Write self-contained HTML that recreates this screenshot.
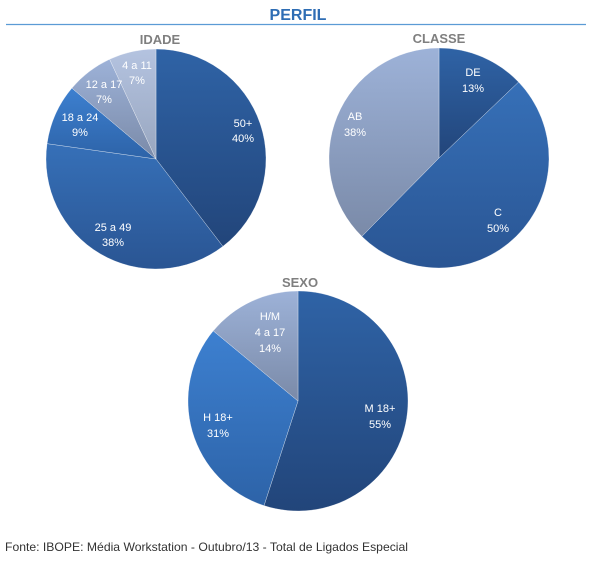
<!DOCTYPE html>
<html><head><meta charset="utf-8"><style>
body{margin:0;background:#fff;width:602px;height:583px;overflow:hidden;font-family:"Liberation Sans",sans-serif}
</style></head><body>
<svg id="s" width="602" height="583" xmlns="http://www.w3.org/2000/svg" font-family="Liberation Sans, DejaVu Sans, sans-serif">
<defs>
<linearGradient id="gDark" x1="0" y1="0" x2="0" y2="1"><stop offset="0" stop-color="#2f63a6"/><stop offset="1" stop-color="#22457a"/></linearGradient>
<linearGradient id="gMid" x1="0" y1="0" x2="0" y2="1"><stop offset="0" stop-color="#3670b8"/><stop offset="1" stop-color="#2a5593"/></linearGradient>
<linearGradient id="gBright" x1="0" y1="0" x2="0" y2="1"><stop offset="0" stop-color="#3d80d0"/><stop offset="1" stop-color="#2d63a8"/></linearGradient>
<linearGradient id="gGray" x1="0" y1="0" x2="0" y2="1"><stop offset="0" stop-color="#9db2d8"/><stop offset="1" stop-color="#7a8aa8"/></linearGradient>
<linearGradient id="gLight" x1="0" y1="0" x2="0" y2="1"><stop offset="0" stop-color="#b4c3e0"/><stop offset="1" stop-color="#98a6bf"/></linearGradient>
</defs>
<line x1="6" y1="24.5" x2="586" y2="24.5" stroke="#5b9bd5" stroke-width="1.2"/>
<text x="298" y="20" text-anchor="middle" font-size="16" font-weight="bold" fill="#2e6db4">PERFIL</text>
<text x="160" y="44" text-anchor="middle" font-size="13" font-weight="bold" fill="#7f7f7f">IDADE</text>
<text x="439" y="43" text-anchor="middle" font-size="13" font-weight="bold" fill="#7f7f7f">CLASSE</text>
<text x="300" y="287" text-anchor="middle" font-size="13" font-weight="bold" fill="#7f7f7f">SEXO</text>
<g id="pies"></g>
<g font-size="11" fill="#fff" text-anchor="middle">
<text x="243" y="127">50+</text><text x="243" y="142">40%</text>
<text x="113" y="231">25 a 49</text><text x="113" y="246">38%</text>
<text x="80" y="121">18 a 24</text><text x="80" y="136">9%</text>
<text x="104" y="88">12 a 17</text><text x="104" y="103">7%</text>
<text x="137" y="69">4 a 11</text><text x="137" y="84">7%</text>
<text x="473" y="76">DE</text><text x="473" y="92">13%</text>
<text x="498" y="216">C</text><text x="498" y="232">50%</text>
<text x="355" y="120">AB</text><text x="355" y="136">38%</text>
<text x="380" y="412">M 18+</text><text x="380" y="428">55%</text>
<text x="218" y="421">H 18+</text><text x="218" y="437">31%</text>
<text x="270" y="320">H/M</text><text x="270" y="336">4 a 17</text><text x="270" y="352">14%</text>
</g>
<text x="5" y="551" font-size="12" textLength="403" lengthAdjust="spacingAndGlyphs" fill="#333">Fonte: IBOPE: Média Workstation - Outubro/13 - Total de Ligados Especial</text>
</svg>
<script>
function pie(cx,cy,r,vals,fills){
 var tot=vals.reduce(function(a,b){return a+b},0),a=0,out="";
 vals.forEach(function(v,i){
  var a0=a,a1=a+v/tot*2*Math.PI;a=a1;
  var x0=cx+r*Math.sin(a0),y0=cy-r*Math.cos(a0),x1=cx+r*Math.sin(a1),y1=cy-r*Math.cos(a1);
  out+='<path d="M'+cx+','+cy+'L'+x0+','+y0+'A'+r+','+r+' 0 '+((a1-a0)>Math.PI?1:0)+' 1 '+x1+','+y1+'Z" fill="url(#'+fills[i]+')" stroke="#fff" stroke-width="0.3"/>';
 });
 return out;
}
document.getElementById("pies").innerHTML=
 pie(156,159,110,[40,38,9,7,7],["gDark","gMid","gBright","gGray","gLight"])+
 pie(439,158,110,[13,50,38],["gDark","gMid","gGray"])+
 pie(298,401,110,[55,31,14],["gDark","gBright","gGray"]);
</script>
</body></html>
